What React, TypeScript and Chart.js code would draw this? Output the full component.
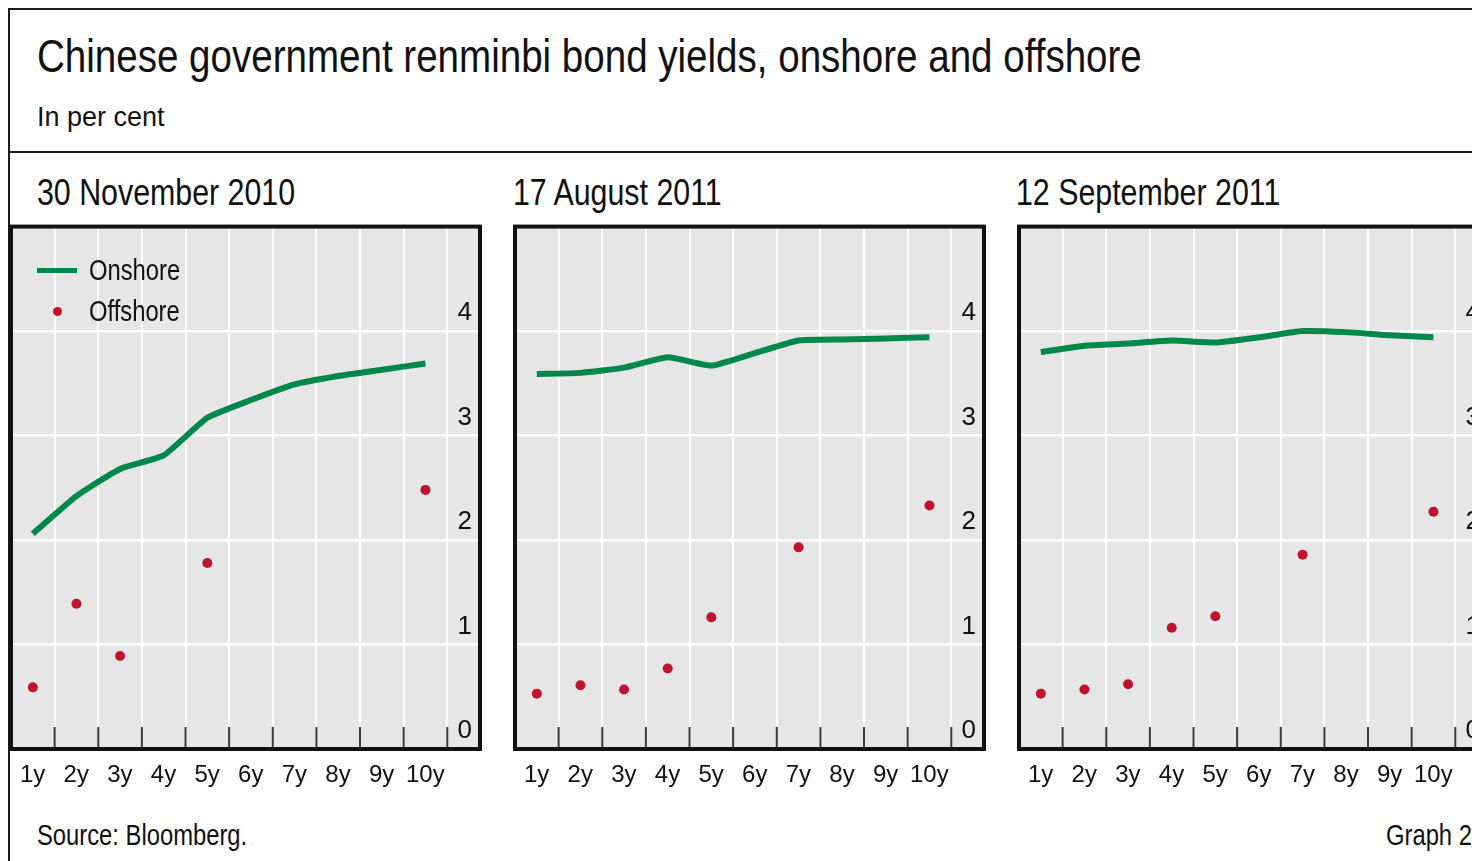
import React, { useEffect, useRef } from "react";
import { Chart, registerables } from "chart.js";

Chart.register(...registerables);

// ---------- data ----------
const tenors = ["1y", "2y", "3y", "4y", "5y", "6y", "7y", "8y", "9y", "10y"];
const yTickValues = [0, 1, 2, 3, 4];
const panelTitles = ["30 November 2010", "17 August 2011", "12 September 2011"];
const seriesNames = ["Onshore", "Offshore"];

const onshoreNov2010 = [2.06, 2.42, 2.68, 2.81, 3.17, 3.34, 3.49, 3.57, 3.63, 3.69];
const offshoreNov2010 = [0.59, 1.39, 0.89, null, 1.78, null, null, null, null, 2.48];

const onshoreAug2011 = [3.59, 3.6, 3.65, 3.75, 3.67, 3.79, 3.91, 3.92, 3.93, 3.94];
const offshoreAug2011 = [0.53, 0.61, 0.57, 0.77, 1.26, null, 1.93, null, null, 2.33];

const onshoreSep2011 = [3.8, 3.86, 3.88, 3.91, 3.89, 3.94, 4.0, 3.99, 3.96, 3.94];
const offshoreSep2011 = [0.53, 0.57, 0.62, 1.16, 1.27, null, 1.86, null, null, 2.27];

// ---------- style ----------
const FONT = "'Liberation Sans', Arial, sans-serif";
const GREEN = "#00874a";
const RED = "#c0142e";
const PLOT_BG = "#e6e6e6";
const INK = "#111111";
const SQUEEZE = 0.82;

const framePlugin = {
  id: "panelFrame",
  beforeDraw(chart: any) {
    const { ctx, chartArea: a } = chart;
    ctx.save();
    ctx.fillStyle = PLOT_BG;
    ctx.fillRect(a.left, a.top, a.right - a.left, a.bottom - a.top);
    ctx.restore();
  },
  afterDraw(chart: any) {
    const { ctx, chartArea: a } = chart;
    const xs = chart.scales.x;
    ctx.save();
    ctx.strokeStyle = "#3a3a3a";
    ctx.lineWidth = 2;
    xs.ticks.forEach((t: any) => {
      const px = xs.getPixelForValue(t.value);
      ctx.beginPath();
      ctx.moveTo(px, a.bottom);
      ctx.lineTo(px, a.bottom - 22);
      ctx.stroke();
    });
    ctx.strokeStyle = "#111";
    ctx.lineWidth = 4;
    ctx.strokeRect(a.left, a.top, a.right - a.left, a.bottom - a.top);
    ctx.restore();
  },
};

function toPoints(values: (number | null)[]) {
  return tenors
    .map((_, i) => ({ x: i + 1, y: values[i] }))
    .filter((p) => p.y !== null);
}

function Panel({ left, onshore, offshore }: { left: number; onshore: (number | null)[]; offshore: (number | null)[] }) {
  const ref = useRef<HTMLCanvasElement | null>(null);
  useEffect(() => {
    if (!ref.current) return;
    const chart = new Chart(ref.current, {
      type: "line",
      data: {
        datasets: [
          {
            label: seriesNames[0],
            data: toPoints(onshore),
            borderColor: GREEN,
            backgroundColor: GREEN,
            borderWidth: 6,
            pointRadius: 0,
            tension: 0.15,
            fill: false,
          },
          {
            label: seriesNames[1],
            data: toPoints(offshore),
            showLine: false,
            pointRadius: 5,
            pointBorderWidth: 0,
            backgroundColor: RED,
            borderColor: RED,
          },
        ],
      },
      options: {
        animation: false,
        responsive: false,
        maintainAspectRatio: false,
        devicePixelRatio: 1,
        layout: { padding: { left: 3, right: 3, top: 3, bottom: 0 } },
        plugins: { legend: { display: false }, tooltip: { enabled: false } },
        events: [],
        scales: {
          x: {
            type: "linear",
            min: 0.5,
            max: 11.25,
            afterBuildTicks: (s: any) => {
              s.ticks = tenors.map((_, i) => ({ value: i + 1.5 }));
            },
            afterFit: (s: any) => {
              s.height = 46;
            },
            grid: { color: "#ffffff", lineWidth: 2, drawTicks: false },
            border: { display: false },
            ticks: {
              autoSkip: false,
              maxRotation: 0,
              labelOffset: -22,
              padding: 12,
              color: INK,
              font: { family: FONT, size: 24 },
              callback: (v: any) => tenors[Math.round(Number(v) - 1.5)] ?? "",
            },
          },
          y: {
            type: "linear",
            position: "right",
            min: 0,
            max: 5,
            afterBuildTicks: (s: any) => {
              s.ticks = yTickValues.map((v) => ({ value: v }));
            },
            grid: { color: "#ffffff", lineWidth: 2.5, drawTicks: false },
            border: { display: false },
            ticks: {
              mirror: true,
              padding: -8,
              labelOffset: -18,
              color: INK,
              font: { family: FONT, size: 26 },
              callback: (v: any) => String(v),
            },
          },
        },
      } as any,
      plugins: [framePlugin],
    });
    return () => chart.destroy();
  }, []);
  return (
    <canvas
      ref={ref}
      width={479}
      height={576}
      style={{ position: "absolute", left, top: 219, width: 479, height: 576 }}
    />
  );
}

const textBase: React.CSSProperties = {
  position: "absolute",
  whiteSpace: "nowrap",
  color: INK,
  margin: 0,
  fontFamily: FONT,
};

const narrow = (size: number): React.CSSProperties => ({
  fontSize: size,
  lineHeight: `${size}px`,
  transform: `scaleX(${SQUEEZE})`,
  transformOrigin: "0 0",
});

export default function App() {
  const panelLefts = [6, 510, 1014];
  const subLefts = [37, 513, 1016];
  const data = [
    [onshoreNov2010, offshoreNov2010],
    [onshoreAug2011, offshoreAug2011],
    [onshoreSep2011, offshoreSep2011],
  ];
  return (
    <div
      style={{
        position: "absolute",
        left: 0,
        top: 0,
        width: 1472,
        height: 861,
        overflow: "hidden",
        background: "#ffffff",
      }}
    >
      <div
        style={{
          position: "absolute",
          left: 8,
          top: 8,
          width: 1500,
          height: 900,
          border: "2px solid #1a1a1a",
          boxSizing: "border-box",
        }}
      />
      <div style={{ position: "absolute", left: 8, top: 151, width: 1500, height: 2, background: "#1a1a1a" }} />
      <div style={{ ...textBase, left: 37, top: 32, ...narrow(47) }}>
        Chinese government renminbi bond yields, onshore and offshore
      </div>
      <div style={{ ...textBase, left: 37, top: 104, fontSize: 27, lineHeight: "27px" }}>In per cent</div>
      {panelTitles.map((t, i) => (
        <div key={t} style={{ ...textBase, left: subLefts[i], top: 173.7, ...narrow(37) }}>
          {t}
        </div>
      ))}
      {data.map((d, i) => (
        <Panel key={i} left={panelLefts[i]} onshore={d[0]} offshore={d[1]} />
      ))}
      {/* legend */}
      <div style={{ position: "absolute", left: 37, top: 267.5, width: 40, height: 5, background: GREEN }} />
      <div
        style={{
          position: "absolute",
          left: 52.5,
          top: 306.5,
          width: 9,
          height: 9,
          borderRadius: "50%",
          background: RED,
        }}
      />
      <div style={{ ...textBase, left: 89, top: 255.5, ...narrow(29) }}>{seriesNames[0]}</div>
      <div style={{ ...textBase, left: 89, top: 296.5, ...narrow(29) }}>{seriesNames[1]}</div>
      <div style={{ ...textBase, left: 37, top: 820.5, ...narrow(29) }}>Source: Bloomberg.</div>
      <div style={{ ...textBase, left: 1386, top: 820.5, ...narrow(29) }}>Graph 2</div>
    </div>
  );
}
